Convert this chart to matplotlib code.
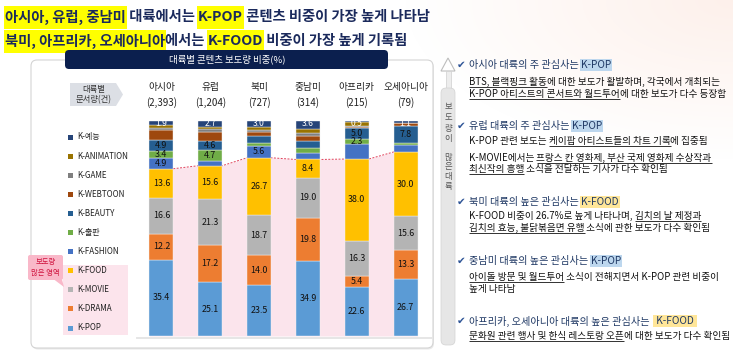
import matplotlib
matplotlib.use('Agg')
import matplotlib.pyplot as plt
from matplotlib.patches import Rectangle, FancyBboxPatch, Polygon
import numpy as np

FAM = ['Noto Sans CJK KR', 'DejaVu Sans']
plt.rcParams['font.family'] = FAM

# ---------------- data ----------------
continents = ['아시아', '유럽', '북미', '중남미', '아프리카', '오세아니아']
doc_counts = ['(2,393)', '(1,204)', '(727)', '(314)', '(215)', '(79)']
categories = ['K-POP', 'K-DRAMA', 'K-MOVIE', 'K-FOOD', 'K-FASHION', 'K-출판',
              'K-BEAUTY', 'K-WEBTOON', 'K-GAME', 'K-ANIMATION', 'K-예능']
cat_colors = ['#5B9BD5', '#ED7D31', '#B4B4B4', '#FFC000', '#4472C4', '#70AD47',
              '#255E91', '#9E480E', '#7F7F7F', '#997300', '#264478']

k_pop     = [35.4, 25.1, 23.5, 34.9, 22.6, 26.7]
k_drama   = [12.2, 17.2, 14.0, 19.8, 5.4, 13.3]
k_movie   = [16.6, 21.3, 18.7, 19.0, 16.3, 15.6]
k_food    = [13.6, 15.6, 26.7, 8.4, 38.0, 30.0]
k_fashion = [4.9, 2.4, 5.6, 3.2, 7.0, 3.1]
k_pub     = [3.4, 4.7, 1.4, 2.0, 2.3, 1.1]
k_beauty  = [4.9, 4.6, 3.1, 3.3, 5.0, 7.8]
k_webtoon = [5.0, 4.1, 2.0, 2.6, 0.5, 1.3]
k_game    = [0.9, 1.1, 0.9, 1.2, 0.4, 0.0]
k_anim    = [1.2, 1.2, 1.1, 2.0, 2.0, 0.0]
k_ent     = [1.9, 2.7, 3.0, 3.6, 0.5, 1.1]
series = [k_pop, k_drama, k_movie, k_food, k_fashion, k_pub,
          k_beauty, k_webtoon, k_game, k_anim, k_ent]

# which segment values are printed in the reference
shown = [
    [1, 1, 1, 1, 1, 1],  # POP
    [1, 1, 1, 1, 1, 1],  # DRAMA
    [1, 1, 1, 1, 1, 1],  # MOVIE
    [1, 1, 1, 1, 1, 1],  # FOOD
    [1, 0, 1, 0, 0, 0],  # FASHION
    [1, 1, 0, 0, 1, 0],  # 출판
    [1, 1, 0, 0, 1, 1],  # BEAUTY
    [0, 0, 0, 0, 0, 0],  # WEBTOON
    [0, 0, 0, 0, 0, 0],  # GAME
    [0, 0, 0, 0, 0, 0],  # ANIMATION
    [1, 1, 1, 1, 1, 1],  # 예능 (top label)
]

title_line1 = [("아시아, 유럽, 중남미", True), (" 대륙에서는 ", False), ("K-POP", True),
               (" 콘텐츠 비중이 가장 높게 나타남", False)]
title_line2 = [("북미, 아프리카, 오세아니아", True), ("에서는 ", False), ("K-FOOD", True),
               (" 비중이 가장 높게 기록됨", False)]
chart_header = "대륙별 콘텐츠 보도량 비중(%)"

BLUE_HL = '#BDD7EE'
ORANGE_HL = '#FFE699'
notes = [
    ([("아시아 대륙의 주 관심사는 ", None), ("K-POP", BLUE_HL)],
     [[("BTS, 블랙핑크 활동", True), ("에 대한 보도가 활발하며, 각국에서 개최되는", False)],
      [("K-POP 아티스트의 콘서트와 월드투어", True), ("에 대한 보도가 다수 등장함", False)]]),
    ([("유럽 대륙의 주 관심사는 ", None), ("K-POP", BLUE_HL)],
     [[("K-POP 관련 보도는 ", False), ("케이팝 아티스트들의 차트 기록", True), ("에 집중됨", False)],
      [("K-MOVIE에서는 ", False), ("프랑스 칸 영화제, 부산 국제 영화제 수상작과", True)],
      [("최신작의 흥행", True), (" 소식을 전달하는 기사가 다수 확인됨", False)]]),
    ([("북미 대륙의 높은 관심사는 ", None), ("K-FOOD", ORANGE_HL)],
     [[("K-FOOD 비중이 26.7%로 높게 나타나며, ", False), ("김치의 날 제정과", True)],
      [("김치의 효능, 불닭볶음면 유행", True), (" 소식에 관한 보도가 다수 확인됨", False)]]),
    ([("중남미 대륙의 높은 관심사는 ", None), ("K-POP", BLUE_HL)],
     [[("아이돌 방문 및 월드투어", True), (" 소식이 전해지면서 K-POP 관련 비중이", False)],
      [("높게 나타남", False)]]),
    ([("아프리카, 오세아니아 대륙의 높은 관심사는  ", None), (" K-FOOD ", ORANGE_HL)],
     [[("문화원 관련 행사 및 한식 레스토랑 오픈", True), ("에 대한 보도가 다수 확인됨", False)]]),
]
note_head_y = [65, 126, 202, 261, 321]
note_body_y = [[82, 94], [141, 158, 169], [216, 228], [277, 289], [336]]

# ---------------- figure ----------------
W, H = 733, 353
fig = plt.figure(figsize=(W / 100, H / 100), dpi=100)
bg = fig.add_axes([0, 0, 1, 1], zorder=0)
bg.set_xlim(0, W)
bg.set_ylim(H, 0)
bg.axis('off')
renderer = fig.canvas.get_renderer()

# subtle warm gradient top-right
yy, xx = np.mgrid[0:H, 0:W]
d = np.sqrt(((xx - W) / 330.0) ** 2 + (yy / 160.0) ** 2)
a = np.clip(1 - d, 0, 1) * 0.55
img = np.ones((H, W, 4))
img[..., 0] = 252 / 255
img[..., 1] = 228 / 255
img[..., 2] = 218 / 255
img[..., 3] = a
bg.imshow(img, extent=(0, W, H, 0), zorder=0, aspect='auto')
bg.set_xlim(0, W)
bg.set_ylim(H, 0)


def tw(s, size, weight='normal', family=FAM):
    t = bg.text(0, 0, '|' + s + '|', fontsize=size, fontweight=weight, family=family)
    w1 = t.get_window_extent(renderer=renderer).width
    t.set_text('||')
    w2 = t.get_window_extent(renderer=renderer).width
    t.remove()
    return w1 - w2


def rich(x, y, segs, size, color, weight='normal', hl_h=12, ul_off=5.0):
    for s, hl, ul in segs:
        w = tw(s, size, weight)
        if hl:
            bg.add_patch(Rectangle((x - 1, y - hl_h / 2), w + 2, hl_h, facecolor=hl,
                                   edgecolor='none', zorder=2))
        bg.text(x, y, s, fontsize=size, fontweight=weight, color=color,
                ha='left', va='center', zorder=4)
        if ul:
            bg.plot([x, x + w], [y + ul_off] * 2, color=color, lw=0.6, zorder=4,
                    solid_capstyle='butt')
        x += w
    return x


# ---- title ----
TITLE_C = '#1B2A5C'
YEL = '#FFFF00'
rich(5, 17, [(s, YEL if h else None, False) for s, h in title_line1], 10.3, TITLE_C,
     weight='bold', hl_h=23)
rich(5, 41, [(s, YEL if h else None, False) for s, h in title_line2], 10.3, TITLE_C,
     weight='bold', hl_h=23)

# ---- chart panel ----
bg.add_patch(FancyBboxPatch((32, 61.5), 402, 288, boxstyle='round,pad=0,rounding_size=6',
                            facecolor='#E9E9E9', edgecolor='none', zorder=1))
bg.add_patch(FancyBboxPatch((31, 60), 402, 288, boxstyle='round,pad=0,rounding_size=6',
                            facecolor='white', edgecolor='#D4D4D4', lw=0.8, zorder=1.1))
bg.add_patch(FancyBboxPatch((65, 50), 323, 19, boxstyle='round,pad=0,rounding_size=4',
                            facecolor='#0B1F4E', edgecolor='none', zorder=2))
bg.text(227, 59.5, chart_header, color='white', fontsize=6.8, ha='center', va='center', zorder=4)

# header pentagon
bg.add_patch(Polygon([(70, 83), (116, 83), (123, 94.5), (116, 106), (70, 106)],
                     closed=True, facecolor='#DCDFE5', edgecolor='none', zorder=2))
bg.text(93.5, 89.5, '대륙별', fontsize=6, color='#333333', ha='center', va='center', zorder=4)
bg.text(93.5, 100, '문서량(건)', fontsize=6, color='#333333', ha='center', va='center', zorder=4)

# legend
bg.add_patch(Rectangle((63, 265), 65, 70, facecolor='#FCE4EC', edgecolor='none', zorder=2))
leg_y = np.linspace(137, 328, len(categories))
for yv, cat, col in zip(leg_y, categories[::-1], cat_colors[::-1]):
    bg.add_patch(Rectangle((68, yv - 2.5), 5, 5, facecolor=col, edgecolor='none', zorder=3))
    bg.text(77, yv, cat, fontsize=5.8, color='#222222', ha='left', va='center', zorder=4)

# callout
bg.add_patch(FancyBboxPatch((28, 255), 35, 25, boxstyle='round,pad=0,rounding_size=2',
                            facecolor='#F9B8C9', edgecolor='none', zorder=3))
bg.add_patch(Polygon([(54, 279.5), (62, 279.5), (64, 287)], closed=True,
                     facecolor='#F9B8C9', edgecolor='none', zorder=3))
bg.text(45.5, 262, '보도량', fontsize=5.3, color='#D0143F', ha='center', va='center', zorder=4)
bg.text(45.5, 273, '많은 영역', fontsize=5.3, color='#D0143F', ha='center', va='center', zorder=4)

# shadow line beneath bars
bg.plot([137, 432], [337.5, 337.5], color='#E6E6E6', lw=1.4, zorder=2)

# ---- bars ----
ax = fig.add_axes([137 / W, (H - 336) / H, 293 / W, 215 / H], zorder=1)
ax.set_xlim(-0.5, 5.5)
ax.set_ylim(0, 100)
ax.axis('off')
xs = np.arange(len(continents))
bw = 0.49
bottom = np.zeros(len(continents))
for k, (vals, col) in enumerate(zip(series, cat_colors)):
    vals = np.array(vals)
    ax.bar(xs, vals, bw, bottom=bottom, color=col, edgecolor='#F4F4F4', linewidth=0.3, zorder=3)
    for i in range(len(xs)):
        if not shown[k][i]:
            continue
        if k == len(series) - 1:
            ax.text(xs[i], 98.8, f'{vals[i]:.1f}', ha='center', va='center', fontsize=6.2,
                    color='white', zorder=5)
        else:
            ax.text(xs[i], bottom[i] + vals[i] / 2, f'{vals[i]:.1f}', ha='center',
                    va='center', fontsize=6.4, color='#111111', zorder=5)
    bottom = bottom + vals
    if k == 3:
        food_top = bottom.copy()

px, py = [], []
for i in range(len(xs)):
    px += [xs[i] - bw / 2, xs[i] + bw / 2]
    py += [food_top[i], food_top[i]]
ax.fill_between(px, 0, py, color='#FBE4EC', zorder=1, lw=0)
ax.plot(px, py, color='#E0405A', lw=0.7, ls=(0, (2, 1.5)), zorder=2)

# continent labels
for i, (c, n) in enumerate(zip(continents, doc_counts)):
    xc = 137 + (i + 0.5) * 293 / 6
    bg.text(xc, 87, c, fontsize=7, color='#222222', ha='center', va='center', zorder=4)
    bg.text(xc, 103, n, fontsize=7, color='#222222', ha='center', va='center', zorder=4)

# ---- right panel ----
bg.add_patch(Polygon([(441, 71), (455, 71), (448, 58)], closed=True,
                     facecolor='white', edgecolor='#BDBDBD', lw=0.8, zorder=2))
bg.add_patch(Rectangle((445.5, 71), 5, 18, facecolor='#EDEDED', edgecolor='#CFCFCF', lw=0.5,
                       zorder=2))
bg.add_patch(FancyBboxPatch((441, 88), 14, 257, boxstyle='round,pad=0,rounding_size=5',
                            facecolor='#E6E6E6', edgecolor='#D2D2D2', lw=0.5, zorder=2))
vchars = ['보', '도', '량', '이', '많', '은', '대', '륙']
vys = [107, 118, 128, 139, 157, 167, 177, 187]
for ch, yv in zip(vchars, vys):
    bg.text(448, yv, ch, fontsize=6, color='#555555', ha='center', va='center', zorder=4)

HEAD_C = '#1F3864'
BODY_C = '#111111'
for (head, body), hy, bys in zip(notes, note_head_y, note_body_y):
    bg.text(457, hy, '✔', fontsize=7.5, color='#2F5597', ha='left', va='center',
            family=['DejaVu Sans'], zorder=4)
    rich(469, hy, [(s, hl, False) for s, hl in head], 7.3, HEAD_C, hl_h=12.5)
    for segs, by in zip(body, bys):
        rich(469, by, [(s, None, u) for s, u in segs], 6.95, BODY_C, ul_off=5.3)

fig.savefig('out.png', dpi=100)
